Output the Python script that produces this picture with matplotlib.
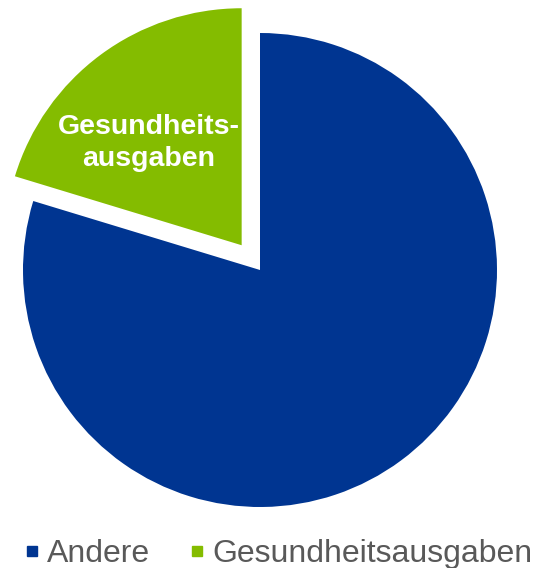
import matplotlib.pyplot as plt
from matplotlib.lines import Line2D

# Data
labels = ['Andere', 'Gesundheitsausgaben']
shares = [79.7, 20.3]
colors = ['#003591', '#84bc00']
explode = [0, 0.13]

plt.rcParams['font.family'] = ['Liberation Sans', 'DejaVu Sans']

fig = plt.figure(figsize=(5.34, 5.68), dpi=100)
ax = fig.add_axes([0, 0, 1, 1])

# pie, clockwise from 12 o'clock
wedges, _ = ax.pie(shares, colors=colors, explode=explode, startangle=90,
                   counterclock=False, radius=1.0)

# pixel -> data: 237 px per unit, centre at (260, 270)
r_px = 237.0
ax.set_xlim(-260 / r_px, 274 / r_px)
ax.set_ylim(-298 / r_px, 270 / r_px)
ax.set_aspect('equal')
ax.axis('off')

ax.text((149 - 260) / r_px, (270 - 143) / r_px, 'Gesundheits-\nausgaben',
        color='white', fontsize=20.5, fontweight='bold', ha='center', va='center',
        linespacing=1.35)

handles = [Line2D([0], [0], marker='s', linestyle='none', markersize=7.5,
                  markerfacecolor=c, markeredgecolor=c) for c in colors]
fig.legend(handles, labels, loc='center', bbox_to_anchor=(0.52, 1 - 554 / 568),
           ncol=2, frameon=False, fontsize=23, handlelength=0.55,
           handletextpad=0.2, columnspacing=1.2, labelcolor='#595959')

fig.savefig('out.png', dpi=100)
